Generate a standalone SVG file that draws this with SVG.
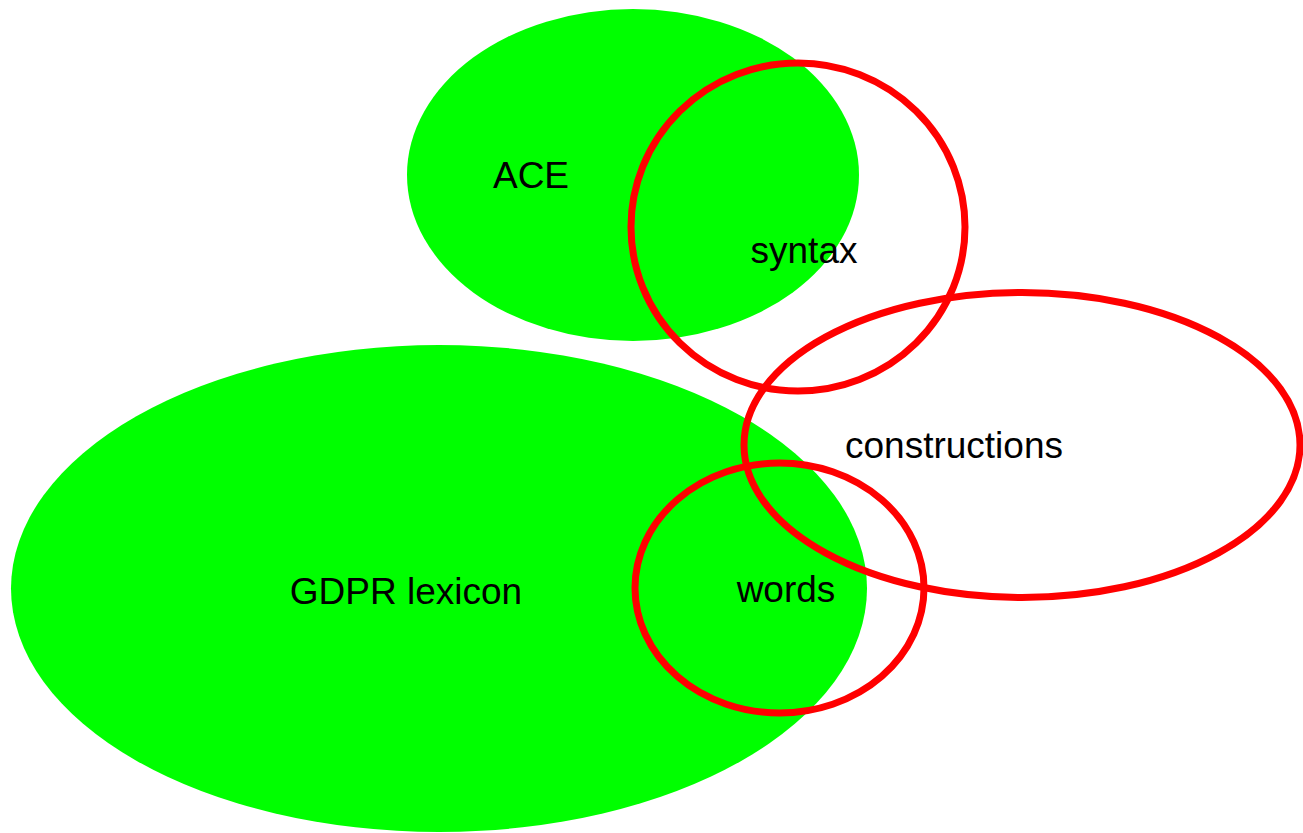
<svg xmlns="http://www.w3.org/2000/svg" width="1303" height="833" viewBox="0 0 1303 833">
  <style>
    .set { fill: #00ff00; stroke: none; }
    .ring { fill: none; stroke: #ff0000; stroke-width: 7; }
    .label { font-family: "Liberation Sans", Arial, sans-serif; font-size: 37px; fill: #000000; text-anchor: middle; }
  </style>
  <rect width="1303" height="833" fill="#ffffff"/>
  <!-- filled sets -->
  <g id="ace">
    <ellipse class="set" cx="633" cy="175" rx="226" ry="166"/>
  </g>
  <g id="gdpr-lexicon">
    <ellipse class="set" cx="439" cy="588.5" rx="428" ry="243.5"/>
  </g>
  <!-- outlined sets -->
  <g id="syntax">
    <ellipse class="ring" cx="798" cy="227" rx="167" ry="164"/>
  </g>
  <g id="constructions">
    <ellipse class="ring" cx="1022" cy="445" rx="278" ry="152.5"/>
  </g>
  <g id="words">
    <ellipse class="ring" cx="779.5" cy="588" rx="144.5" ry="125"/>
  </g>
  <!-- labels -->
  <g id="labels">
    <text class="label" x="531" y="188">ACE</text>
    <text class="label" x="804" y="263">syntax</text>
    <text class="label" x="954" y="458">constructions</text>
    <text class="label" x="786" y="602">words</text>
    <text class="label" x="406" y="604">GDPR lexicon</text>
  </g>
  <g id="connectors"/>
</svg>
